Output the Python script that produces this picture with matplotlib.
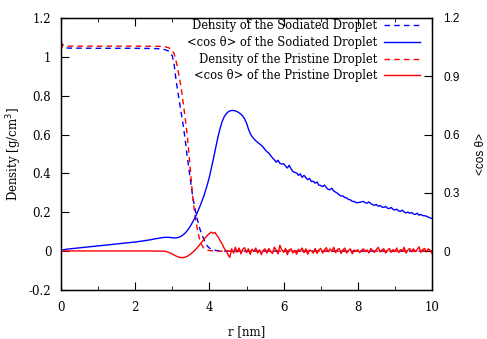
import numpy as np
import matplotlib
matplotlib.use("Agg")
import matplotlib.pyplot as plt
from matplotlib.ticker import MultipleLocator

# density profiles (g/cm^3)
r_dens_sod = [0.0, 0.05, 0.1, 0.2, 1.0, 2.0, 2.5, 2.7, 2.8, 2.9, 3.0, 3.05, 3.1, 3.15, 3.2, 3.25,
              3.3, 3.35, 3.4, 3.45, 3.5, 3.55, 3.6, 3.65, 3.7, 3.75, 3.8, 3.85, 3.9, 3.95, 4.0,
              4.05, 4.1, 4.2, 4.3, 4.5, 10.0]
dens_sod = [1.082, 1.055, 1.047, 1.045, 1.044, 1.044, 1.043, 1.041, 1.037, 1.030, 1.005, 0.96,
            0.88, 0.82, 0.76, 0.70, 0.64, 0.57, 0.49, 0.42, 0.35, 0.28, 0.23, 0.18, 0.145, 0.11,
            0.085, 0.06, 0.04, 0.025, 0.016, 0.01, 0.006, 0.003, 0.001, 0.0, 0.0]

r_dens_pri = [0.0, 0.05, 0.1, 0.2, 1.0, 2.0, 2.7, 2.8, 2.9, 3.0, 3.05, 3.1, 3.15, 3.2, 3.25, 3.3,
              3.35, 3.4, 3.45, 3.5, 3.55, 3.6, 3.65, 3.7, 3.75, 3.8, 3.85, 3.9, 4.0, 4.2, 10.0]
dens_pri = [1.04, 1.062, 1.058, 1.055, 1.055, 1.055, 1.054, 1.052, 1.047, 1.035, 1.015, 0.98,
            0.935, 0.885, 0.825, 0.755, 0.68, 0.60, 0.50, 0.39, 0.28, 0.20, 0.14, 0.09, 0.05, 0.03,
            0.015, 0.008, 0.003, 0.0, 0.0]

# <cos theta> profiles, 0.05 nm bins from 0 to 10 nm
r_cos = np.linspace(0, 10, 201)
cos_sod = [
    0.003, 0.006, 0.008, 0.010, 0.011, 0.012, 0.013, 0.014, 0.015, 0.016,
    0.017, 0.018, 0.019, 0.020, 0.021, 0.022, 0.023, 0.024, 0.025, 0.026,
    0.027, 0.028, 0.029, 0.030, 0.031, 0.032, 0.033, 0.034, 0.035, 0.036,
    0.037, 0.038, 0.039, 0.040, 0.041, 0.042, 0.043, 0.044, 0.045, 0.046,
    0.047, 0.048, 0.050, 0.051, 0.052, 0.054, 0.055, 0.057, 0.058, 0.060,
    0.062, 0.064, 0.065, 0.067, 0.069, 0.070, 0.071, 0.071, 0.071, 0.070,
    0.069, 0.068, 0.068, 0.070, 0.073, 0.078, 0.085, 0.094, 0.105, 0.118,
    0.133, 0.150, 0.168, 0.188, 0.210, 0.233, 0.258, 0.284, 0.314, 0.346,
    0.382, 0.424, 0.468, 0.515, 0.560, 0.603, 0.640, 0.670, 0.692, 0.706,
    0.716, 0.722, 0.724, 0.724, 0.722, 0.718, 0.712, 0.705, 0.695, 0.680,
    0.660, 0.630, 0.605, 0.590, 0.578, 0.568, 0.560, 0.552, 0.545, 0.535,
    0.522, 0.512, 0.505, 0.492, 0.480, 0.470, 0.458, 0.468, 0.452, 0.448,
    0.450, 0.438, 0.428, 0.442, 0.424, 0.410, 0.405, 0.402, 0.390, 0.398,
    0.380, 0.390, 0.378, 0.368, 0.374, 0.358, 0.360, 0.350, 0.356, 0.340,
    0.338, 0.332, 0.340, 0.328, 0.318, 0.316, 0.324, 0.310, 0.304, 0.298,
    0.290, 0.283, 0.284, 0.276, 0.274, 0.266, 0.264, 0.256, 0.256, 0.250,
    0.250, 0.251, 0.254, 0.256, 0.249, 0.247, 0.253, 0.245, 0.239, 0.236,
    0.240, 0.231, 0.235, 0.227, 0.225, 0.230, 0.221, 0.219, 0.225, 0.215,
    0.212, 0.216, 0.207, 0.205, 0.211, 0.201, 0.197, 0.201, 0.195, 0.199,
    0.191, 0.189, 0.195, 0.185, 0.189, 0.183, 0.182, 0.180, 0.175, 0.171,
    0.168]
cos_pri = [
    -0.003, 0.000, 0.001, 0.001, 0.001, 0.001, 0.001, 0.001, 0.001, 0.001,
    0.001, 0.001, 0.001, 0.001, 0.001, 0.001, 0.001, 0.001, 0.001, 0.001,
    0.001, 0.001, 0.001, 0.001, 0.001, 0.001, 0.001, 0.001, 0.001, 0.001,
    0.001, 0.001, 0.001, 0.001, 0.001, 0.001, 0.001, 0.001, 0.001, 0.001,
    0.001, 0.001, 0.001, 0.001, 0.001, 0.001, 0.001, 0.001, 0.001, 0.001,
    0.000, 0.000, 0.000, 0.000, 0.000, 0.000, -0.001, -0.003, -0.006, -0.010,
    -0.015, -0.020, -0.025, -0.029, -0.032, -0.033, -0.033, -0.031, -0.027, -0.021,
    -0.014, -0.006, 0.003, 0.013, 0.024, 0.036, 0.048, 0.060, 0.071, 0.082,
    0.090, 0.098, 0.092, 0.096, 0.082, 0.068, 0.050, 0.035, 0.014, 0.002,
    -0.018, -0.032, 0.012, -0.010, 0.020, -0.006, 0.016, -0.014, 0.010, 0.018,
    -0.008, 0.012, -0.016, 0.010, -0.002, 0.016, -0.010, 0.006, -0.018, 0.004,
    0.012, -0.010, 0.014, -0.002, -0.012, 0.020, 0.006, -0.014, 0.030, 0.008,
    -0.006, 0.014, -0.018, 0.006, 0.012, -0.010, 0.004, -0.016, 0.010, -0.002,
    0.016, -0.008, 0.012, -0.016, 0.006, 0.002, -0.010, 0.014, -0.012, 0.006,
    0.014, -0.010, 0.006, 0.018, -0.004, 0.012, -0.002, 0.020, -0.008, 0.008,
    0.014, -0.012, 0.006, 0.016, -0.010, 0.004, 0.012, -0.014, 0.006, -0.002,
    0.008, -0.008, 0.004, 0.012, -0.002, 0.006, -0.010, 0.014, 0.002, -0.006,
    0.008, 0.020, -0.004, 0.006, 0.012, -0.010, 0.004, 0.014, -0.006, 0.008,
    -0.002, 0.016, -0.008, 0.008, 0.002, 0.020, -0.010, 0.006, 0.014, -0.004,
    0.012, -0.002, 0.008, 0.022, -0.006, 0.008, 0.014, -0.004, 0.012, 0.004,
    -0.012]

serif = "DejaVu Serif"
sans = "Liberation Sans"

fig = plt.figure(figsize=(4.87, 3.39), dpi=100)
ax = fig.add_axes([61 / 487, 49 / 339, 371 / 487, 272 / 339])
ax2 = ax.twinx()

l1, = ax.plot(r_dens_sod, dens_sod, color="#0000ff", lw=1.0, ls=(0, (4, 3)),
              label="Density of the Sodiated Droplet")
l2, = ax2.plot(r_cos, cos_sod, color="#0000ff", lw=1.0,
               label="<cos \u03b8> of the Sodiated Droplet")
l3, = ax.plot(r_dens_pri, dens_pri, color="#ff0000", lw=1.0, ls=(0, (4, 3)),
              label="Density of the Pristine Droplet")
l4, = ax2.plot(r_cos, cos_pri, color="#ff0000", lw=1.0,
               label="<cos \u03b8> of the Pristine Droplet")

ax.set_xlim(0, 10)
ax.set_ylim(-0.2, 1.2)
ax2.set_ylim(-0.2, 1.2)

ax.xaxis.set_major_locator(MultipleLocator(2))
ax.xaxis.set_minor_locator(MultipleLocator(1))
ax.yaxis.set_major_locator(MultipleLocator(0.2))
ax2.set_yticks([0, 0.3, 0.6, 0.9, 1.2])

ax.tick_params(axis="x", which="both", direction="in", top=True, labelsize=8.5, pad=8)
ax.tick_params(axis="x", which="major", length=6)
ax.tick_params(axis="x", which="minor", length=3)
ax.tick_params(axis="y", direction="in", right=False, length=6, labelsize=8.5, pad=7)
ax2.tick_params(axis="y", direction="in", length=6, labelsize=8.5, pad=8)
ax.xaxis.set_major_formatter(plt.FuncFormatter(lambda v, p: "%g" % v))
ax.yaxis.set_major_formatter(plt.FuncFormatter(lambda v, p: "%g" % round(v, 1)))
ax2.yaxis.set_major_formatter(plt.FuncFormatter(lambda v, p: "%g" % round(v, 1)))

for t in ax.get_xticklabels() + ax.get_yticklabels():
    t.set_fontfamily(serif)
for t in ax2.get_yticklabels():
    t.set_fontfamily(sans)

ax.set_xlabel("r [nm]", fontsize=8.5, family=serif, labelpad=8)
ax.set_ylabel("Density [g/cm$^3$]", fontsize=8.5, family=serif, labelpad=3)
ax2.set_ylabel("<cos \u03b8>", fontsize=8.5, family=sans, labelpad=11)

for s in ax.spines.values():
    s.set_linewidth(1.0)

leg = ax2.legend(handles=[l1, l2, l3, l4], loc="upper right", bbox_to_anchor=(0.968, 0.995),
                 frameon=False, markerfirst=False, handlelength=3.1, handletextpad=0.6,
                 labelspacing=0.32, borderpad=0, borderaxespad=0,
                 prop={"family": serif, "size": 8.3})

fig.savefig("out.png", dpi=100)
